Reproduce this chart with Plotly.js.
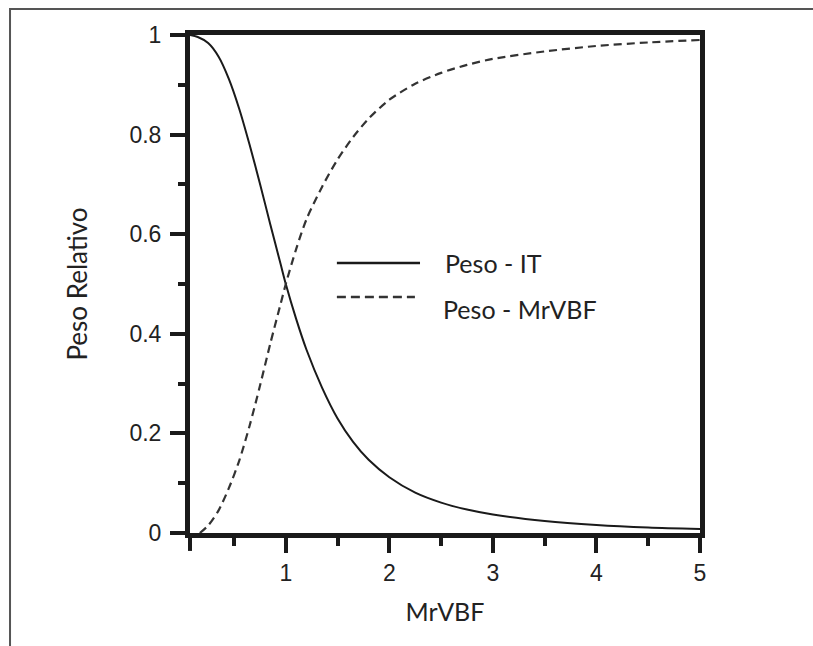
<!DOCTYPE html>
<html>
<head>
<meta charset="utf-8">
<script src="https://cdn.plot.ly/plotly-3.0.1.min.js"></script>
<style>html,body{margin:0;padding:0;background:#fff;overflow:hidden;}#chart{width:813px;height:646px;}</style>
</head>
<body>
<div id="chart"></div>
<script>
// MrVBF values and relative weights
var xIT = [0.075, 0.15, 0.25, 0.35, 0.45, 0.55, 0.65, 0.75, 0.85, 0.95, 1.0, 1.1, 1.2, 1.35, 1.5, 1.65, 1.8, 2.0, 2.25, 2.5, 2.75, 3.0, 3.5, 4.0, 4.5, 5.0];
var pesoIT = [1.0, 0.996, 0.984, 0.957, 0.912, 0.852, 0.780, 0.702, 0.620, 0.540, 0.500, 0.430, 0.368, 0.292, 0.230, 0.183, 0.147, 0.112, 0.081, 0.061, 0.047, 0.037, 0.024, 0.016, 0.011, 0.008];
var xMr = [0.17, 0.25, 0.35, 0.45, 0.55, 0.65, 0.75, 0.85, 0.95, 1.0, 1.1, 1.2, 1.35, 1.5, 1.65, 1.8, 2.0, 2.25, 2.5, 2.75, 3.0, 3.5, 4.0, 4.5, 5.0];
var pesoMr = [0.0, 0.015, 0.045, 0.09, 0.145, 0.215, 0.295, 0.38, 0.46, 0.5, 0.57, 0.63, 0.695, 0.75, 0.795, 0.832, 0.87, 0.902, 0.924, 0.94, 0.952, 0.967, 0.978, 0.985, 0.99];
var xTicks = [1, 2, 3, 4, 5];
var yTicks = [0, 0.2, 0.4, 0.6, 0.8, 1];
var yTickText = ['0', '0.2', '0.4', '0.6', '0.8', '1'];
var legendNames = ['Peso - IT', 'Peso - MrVBF'];

var axisColor = '#1a1a1a';
var tickFont = {family: 'Liberation Sans, Arial, sans-serif', size: 23, color: '#222'};
var textFont = {family: 'Lato, Carlito, sans-serif', size: 25, color: '#222'};

var traces = [
  {x: xIT, y: pesoIT, name: legendNames[0], type: 'scatter', mode: 'lines',
   line: {color: '#1a1a1a', width: 2, shape: 'spline', smoothing: 0.8}, cliponaxis: true},
  {x: xMr, y: pesoMr, name: legendNames[1], type: 'scatter', mode: 'lines',
   line: {color: '#333', width: 2.2, dash: '8px,5px', shape: 'spline', smoothing: 0.8}, cliponaxis: true}
];

var layout = {
  width: 813, height: 646,
  margin: {l: 190, r: 113, t: 35, b: 113},
  paper_bgcolor: '#fff', plot_bgcolor: '#fff',
  showlegend: false,
  xaxis: {
    range: [0.075, 5], tickvals: xTicks, ticktext: xTicks.map(String),
    showgrid: false, zeroline: false,
    showline: true, linecolor: axisColor, linewidth: 5, mirror: true,
    ticks: 'outside', ticklen: 15, tickwidth: 4, tickcolor: axisColor,
    minor: {dtick: 0.5, tick0: 0, ticks: 'outside', ticklen: 8, tickwidth: 4, tickcolor: axisColor, showgrid: false},
    tickfont: tickFont,
    title: {text: 'MrVBF', font: textFont, standoff: 20}
  },
  yaxis: {
    range: [0, 1], tickvals: yTicks, ticktext: yTickText,
    showgrid: false, zeroline: false,
    showline: true, linecolor: axisColor, linewidth: 5, mirror: true,
    ticks: 'outside', ticklen: 15, tickwidth: 4, tickcolor: axisColor,
    minor: {dtick: 0.1, tick0: 0, ticks: 'outside', ticklen: 7, tickwidth: 4, tickcolor: axisColor, showgrid: false},
    tickfont: tickFont, ticklabelstandoff: 4,
    title: {text: 'Peso Relativo', font: {family: textFont.family, size: 26, color: '#222'}, standoff: 36}
  },
  shapes: [
    // outer frame (only left and top edges fall inside the picture)
    {type: 'rect', xref: 'paper', yref: 'paper', x0: -0.3529, x1: 1.6, y0: -0.6, y1: 1.0522, line: {color: '#555', width: 2}, fillcolor: 'rgba(0,0,0,0)'},
    // x=0 corner tick
    {type: 'line', xref: 'paper', yref: 'paper', x0: 0, x1: 0, y0: 0, y1: -0.036, line: {color: axisColor, width: 4}},
    // legend samples
    {type: 'line', xref: 'paper', yref: 'paper', x0: 0.288, x1: 0.451, y0: 0.542, y1: 0.542, line: {color: '#1a1a1a', width: 2.5}},
    {type: 'line', xref: 'paper', yref: 'paper', x0: 0.288, x1: 0.441, y0: 0.474, y1: 0.474, line: {color: '#333', width: 2.5, dash: '9px,5px'}}
  ],
  annotations: [
    {xref: 'x', yref: 'paper', x: 0, y: 0, yshift: -29, text: '0', showarrow: false, font: tickFont, xanchor: 'center', yanchor: 'top'},
    {xref: 'paper', yref: 'paper', x: 0.496, y: 0.542, text: legendNames[0], showarrow: false, font: textFont, xanchor: 'left', yanchor: 'middle'},
    {xref: 'paper', yref: 'paper', x: 0.492, y: 0.450, text: legendNames[1], showarrow: false, font: textFont, xanchor: 'left', yanchor: 'middle'}
  ]
};

Plotly.newPlot('chart', traces, layout, {displayModeBar: false, staticPlot: true});
</script>
</body>
</html>
